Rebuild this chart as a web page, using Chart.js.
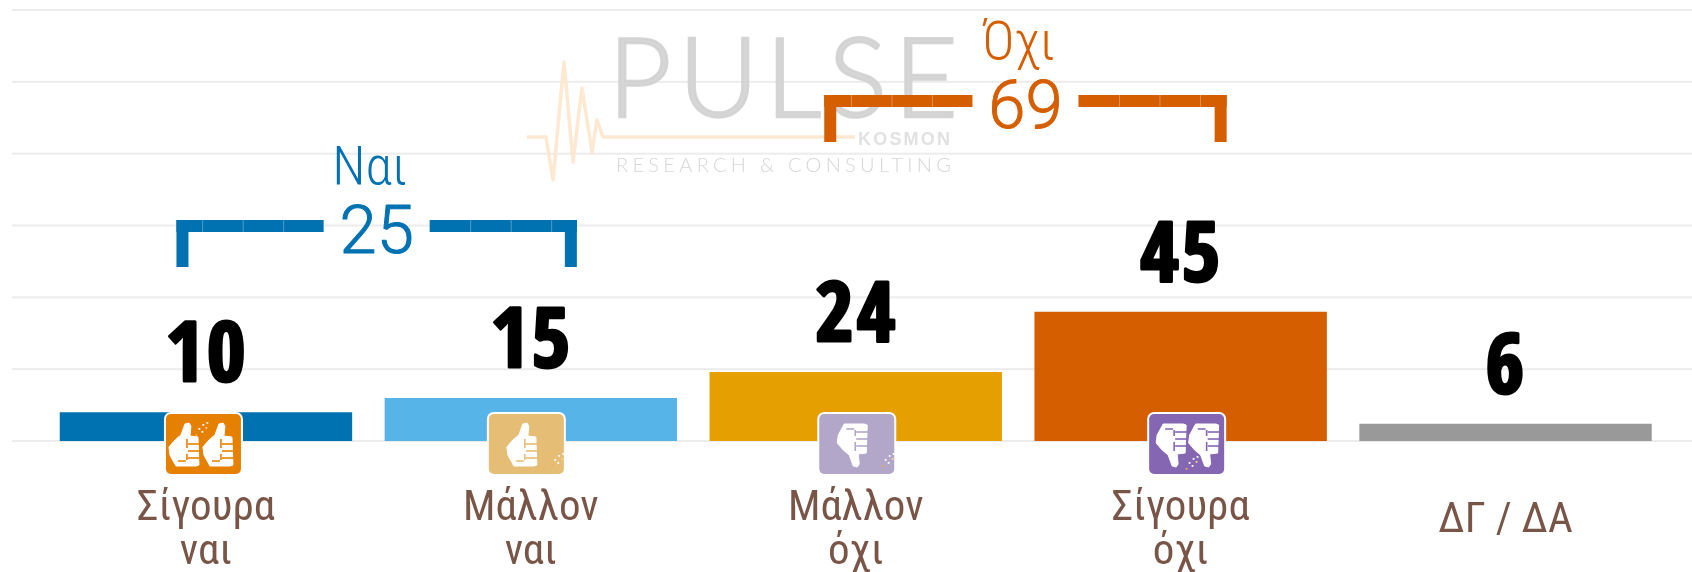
<!DOCTYPE html>
<html><head><meta charset="utf-8">
<style>html,body{margin:0;padding:0;background:#fff}#wrap{width:1692px;height:572px}</style>
<script src="https://cdn.jsdelivr.net/npm/chart.js@4"></script>
</head><body><div id="wrap"><canvas id="c" width="1692" height="572"></canvas></div>
<script>
const categories=[['Σίγουρα','ναι'],['Μάλλον','ναι'],['Μάλλον','όχι'],['Σίγουρα','όχι'],'ΔΓ / ΔΑ'];
const values=[10,15,24,45,6];
const barColors=['#0072b2','#56b4e9','#e69f00','#d55e00','#999999'];
const iconColors=['#e68000','#e6bd75','#b3a7c9','#8466b3'];
const iconThumbs=[[-19.5,14.5],[-4.5],[-4.5],[-15.5,17]];
const iconUp=[true,true,false,false];
const iconOffsets=[-2.5,-4.5,1,6];
const iconSpecks=[[-5,14],[28,45],[28,45],[2,48]];
const groupLabels=['Ναι','Όχι'];
const groupValues=[25,69];
const groupColors=['#0072b2','#d55e00'];
const groupSpans=[[0,1],[2,3]];
const groupTops=[220,95];
const groupLeftShift=[0,-2];
const COND='"Roboto Condensed","Roboto",sans-serif';

function thumb(ctx,cx,cy,up,bg){
  ctx.save();ctx.translate(cx,cy);ctx.scale(1,up?1:-1);
  ctx.fillStyle='#fff';ctx.strokeStyle='#fff';ctx.lineWidth=1;ctx.lineJoin='round';
  ctx.beginPath();
  [[1,-21],[5,-22],[7,-19],[6,-9],[14,-8],[15,20],[12,21],[-8,21],[-14,10],[-15,2],[-9,-5],[-3,-10]]
    .forEach((p,i)=>i?ctx.lineTo(p[0],p[1]):ctx.moveTo(p[0],p[1]));
  ctx.closePath();ctx.fill();ctx.stroke();
  ctx.strokeStyle=bg;ctx.lineWidth=1.6;
  [-1,6,13].forEach(y=>{ctx.beginPath();ctx.moveTo(4,y);ctx.lineTo(16,y);ctx.stroke();});
  ctx.beginPath();ctx.moveTo(3,-6);ctx.lineTo(3,3);ctx.moveTo(3,9);ctx.lineTo(3,15);ctx.moveTo(-6,16);ctx.lineTo(2,16);ctx.stroke();
  ctx.restore();
}
const decor={id:'decor',
  beforeDatasetsDraw(chart){
    const {ctx,scales:{y}}=chart;
    ctx.save();
    ctx.fillStyle='#ececec';
    y.ticks.forEach(t=>{const p=y.getPixelForValue(t.value);ctx.fillRect(12,p-1,1680,2);});
    ctx.fillStyle='#d2d2d2';ctx.strokeStyle='#d2d2d2';ctx.lineWidth=2.5;ctx.textBaseline='alphabetic';ctx.textAlign='left';
    ctx.globalAlpha=.9;
    ctx.font='300 110px "Lato","Open Sans",sans-serif';
    ctx.letterSpacing='7px';ctx.fillText('PULSE',608,117);ctx.strokeText('PULSE',608,117);ctx.letterSpacing='0px';
    ctx.font='300 20px "Lato",sans-serif';ctx.letterSpacing='4.3px';ctx.fillText('RESEARCH & CONSULTING',616,172);
    ctx.letterSpacing='2.2px';ctx.font='900 18px "Liberation Sans",sans-serif';ctx.fillStyle='#dedede';ctx.fillText('KOSMON',858,145);ctx.letterSpacing='0px';
    ctx.globalAlpha=1;
    ctx.strokeStyle='#fde8d2';ctx.lineWidth=3.5;ctx.lineJoin='round';
    ctx.beginPath();
    [[527,137],[546,137],[553,180],[564,62],[573,162],[582,88],[592,152],[597,120],[603,137],[855,137]].forEach((p,i)=>i?ctx.lineTo(p[0],p[1]):ctx.moveTo(p[0],p[1]));
    ctx.stroke();
    ctx.restore();
  },
  afterDatasetsDraw(chart){
    const {ctx,scales:{x,y}}=chart;
    ctx.save();
    iconColors.forEach((col,i)=>{
      const cx=x.getPixelForValue(i)+iconOffsets[i];
      const w=75,h=60,top=y.getPixelForValue(0)-27;
      ctx.fillStyle='#fff';ctx.beginPath();ctx.roundRect(cx-w/2-2,top-2,w+4,h+4,7);ctx.fill();
      ctx.fillStyle=col;ctx.beginPath();ctx.roundRect(cx-w/2,top,w,h,5);ctx.fill();
      iconThumbs[i].forEach(dx=>thumb(ctx,cx+dx,top+31,iconUp[i],col));
      const [sx,sy]=iconSpecks[i];
      [[0,0,'#fff'],[4,-4,'#fff'],[8,-6,'#fff'],[3,3,'#fff'],[7,-1,'#f5cfa0'],[-3,6,'#f0a860']].forEach(d=>{ctx.fillStyle=d[2];ctx.fillRect(cx+sx+d[0],top+sy+d[1],1.8,1.8);});
    });
    ctx.fillStyle='#000';ctx.strokeStyle='#000';ctx.lineWidth=3;ctx.lineJoin='round';ctx.textAlign='center';ctx.textBaseline='alphabetic';
    ctx.font='bold 83px "Open Sans Condensed","Roboto Condensed",sans-serif';
    ctx.letterSpacing='3px';
    values.forEach((v,i)=>{const px=x.getPixelForValue(i)+1,py=y.getPixelForValue(v)-31;ctx.fillText(String(v),px,py);ctx.strokeText(String(v),px,py);});
    ctx.letterSpacing='0px';
    groupLabels.forEach((lab,i)=>{
      const l=x.getPixelForValue(groupSpans[i][0])-29.5+groupLeftShift[i], r=x.getPixelForValue(groupSpans[i][1])+46;
      const c=(l+r)/2, top=groupTops[i], gap=53, th=12, seg=40.5;
      ctx.fillStyle=groupColors[i];
      ctx.fillRect(l,top,th,47);ctx.fillRect(r-th,top,th,47);
      ctx.fillRect(l,top,c-gap-l,th);ctx.fillRect(c+gap,top,r-c-gap,th);
      ctx.fillStyle='rgba(255,255,255,.3)';
      for(let k=1;k<4;k++){ctx.fillRect(c-gap-k*seg,top,1,th);ctx.fillRect(c+gap+k*seg,top,1,th);}
      ctx.fillStyle=groupColors[i];ctx.strokeStyle=groupColors[i];ctx.lineWidth=1;ctx.textAlign='center';
      ctx.font='300 67px "Roboto",sans-serif';ctx.fillText(String(groupValues[i]),c,top+33);ctx.strokeText(String(groupValues[i]),c,top+33);
      ctx.font='300 54px '+COND;ctx.fillText(lab,c-7,top-36);
    });
    ctx.restore();
  }};
new Chart(document.getElementById('c'),{type:'bar',
  data:{labels:categories,datasets:[{data:values,backgroundColor:barColors,barPercentage:.9,categoryPercentage:1,borderWidth:0}]},
  options:{responsive:false,animation:false,
    layout:{padding:{left:43.5,right:24,top:10,bottom:0}},
    plugins:{legend:{display:false},tooltip:{enabled:false}},
    scales:{
      x:{grid:{display:false,drawTicks:false},border:{display:false},
        afterFit(s){s.height=131;},
        ticks:{color:'#795548',font:c=>({family:COND,size:43,lineHeight:(Array.isArray(categories[c.index])?44:68)/43}),padding:46,maxRotation:0,autoSkip:false,crossAlign:'near'}},
      y:{min:0,max:150,border:{display:false},grid:{display:false},ticks:{display:false,stepSize:25},afterFit(s){s.width=0;}}
    }},
  plugins:[decor]});
</script></body></html>
